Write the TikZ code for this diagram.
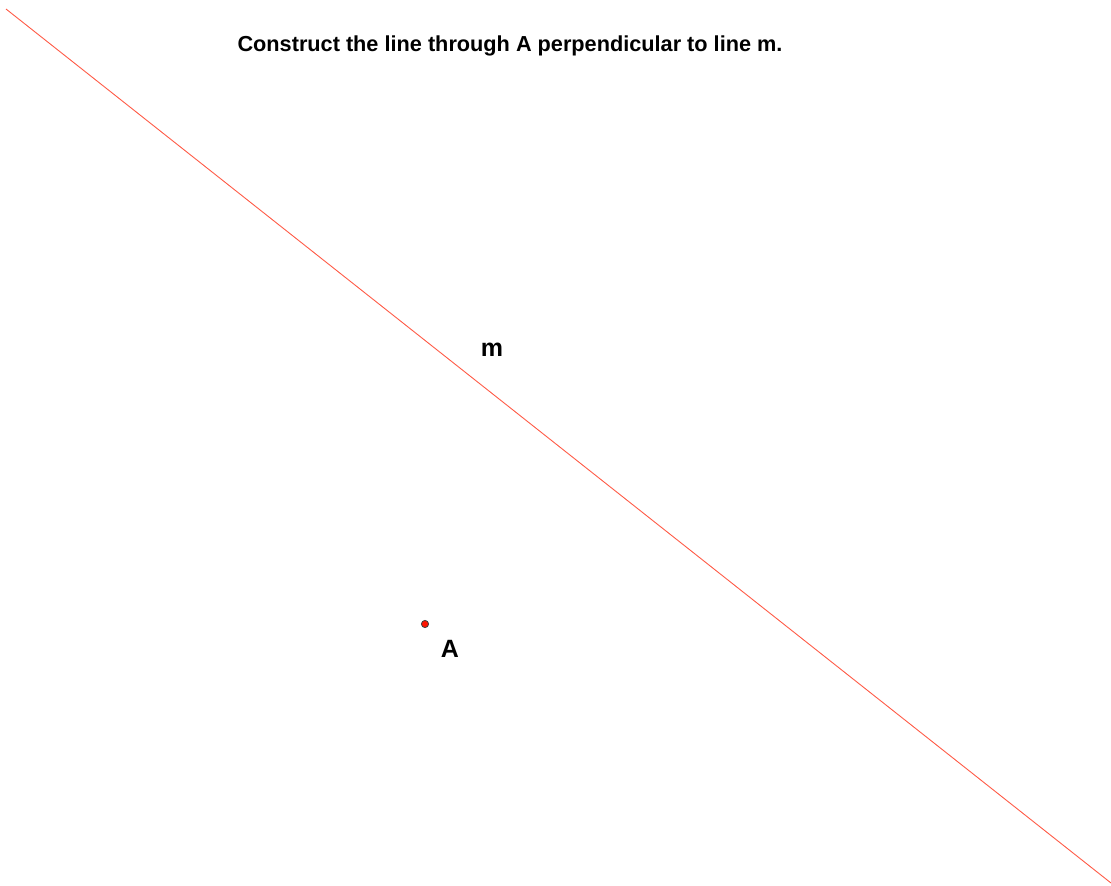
\documentclass[tikz,border=0pt]{standalone}
\usepackage{fontspec}
\setmainfont{Liberation Sans}
\definecolor{lineorange}{RGB}{255,90,70}
\definecolor{ptred}{RGB}{255,20,0}

\begin{document}
\begin{tikzpicture}[x=1pt,y=-1pt]
  \useasboundingbox (0,0) rectangle (1111,886);
  % line m
  \coordinate (m1) at (6,9);
  \coordinate (m2) at (1111,883);
  \draw[lineorange, line width=0.9pt] (m1) -- (m2);
  \node[font=\fontsize{25}{28}\selectfont\bfseries] (mlabel) at (492,350) {m};
  % point A
  \fill[ptred, draw=black!75, line width=0.8pt] (425,624) circle (3.6);
  \node[font=\fontsize{25}{28}\selectfont\bfseries] (alabel) at (450,649) {A};
  % title
  \node[font=\fontsize{21.7}{25}\selectfont\bfseries] (title) at (510,46)
    {Construct the line through A perpendicular to line m.};
\end{tikzpicture}
\end{document}
